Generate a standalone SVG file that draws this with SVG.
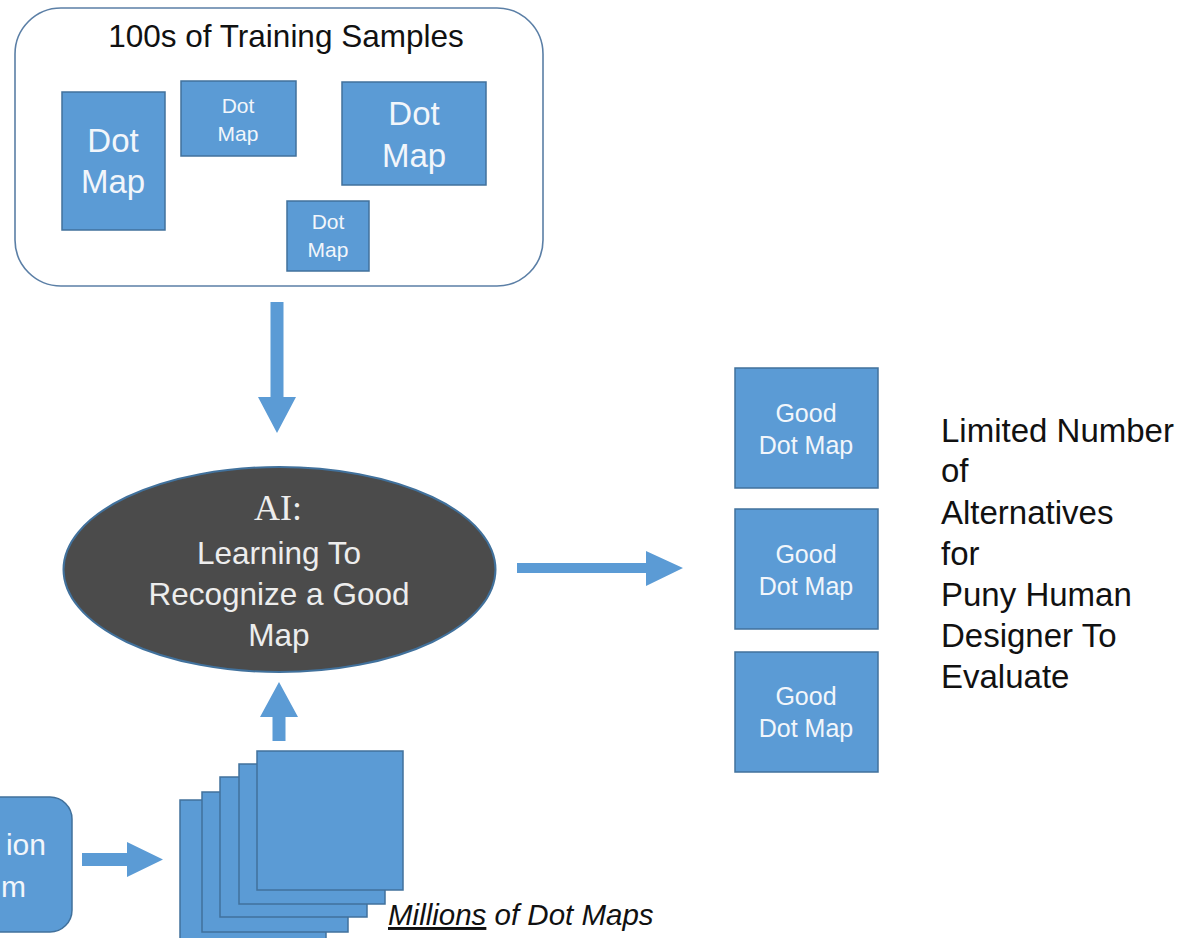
<svg xmlns="http://www.w3.org/2000/svg" width="1183" height="938" viewBox="0 0 1183 938">
<style>
.box{fill:#5B9BD5;stroke:#41719C;stroke-width:1.5}
.arrow{fill:#5B9BD5}
.bt{font-family:"Liberation Sans",Arial,sans-serif;fill:#F2F6FB;text-anchor:middle}
.dark{font-family:"Liberation Sans",Arial,sans-serif;fill:#111111}
.et{font-family:"Liberation Sans",Arial,sans-serif;fill:#EDEDED;text-anchor:middle;font-size:31.5px}
</style>
<rect width="1183" height="938" fill="#FFFFFF"/>

<g id="training-samples">
  <rect x="15" y="8" width="528" height="278" rx="46" ry="46" fill="#FFFFFF" stroke="#5B7FA6" stroke-width="1.6"/>
  <text class="dark" x="286" y="47" font-size="31.5" text-anchor="middle">100s of Training Samples</text>
</g>
<g id="dotmap1">
  <rect class="box" x="62" y="92" width="103" height="138"/>
  <text class="bt" x="113" y="152" font-size="33">Dot</text>
  <text class="bt" x="113" y="193" font-size="33">Map</text>
</g>
<g id="dotmap2">
  <rect class="box" x="181" y="81" width="115" height="75"/>
  <text class="bt" x="238" y="113" font-size="21">Dot</text>
  <text class="bt" x="238" y="141" font-size="21">Map</text>
</g>
<g id="dotmap3">
  <rect class="box" x="342" y="82" width="144" height="103"/>
  <text class="bt" x="414" y="125" font-size="33">Dot</text>
  <text class="bt" x="414" y="167" font-size="33">Map</text>
</g>
<g id="dotmap4">
  <rect class="box" x="287" y="201" width="82" height="70"/>
  <text class="bt" x="328" y="229" font-size="21">Dot</text>
  <text class="bt" x="328" y="257" font-size="21">Map</text>
</g>

<g id="ai">
  <ellipse cx="279.5" cy="569.5" rx="216" ry="102.5" fill="#4B4B4B" stroke="#41719C" stroke-width="2"/>
  <text x="278" y="520" font-family="'Liberation Serif','Times New Roman',serif" font-size="36" fill="#EDEDED" text-anchor="middle">AI:</text>
  <text class="et" x="279" y="564">Learning To</text>
  <text class="et" x="279" y="605">Recognize a Good</text>
  <text class="et" x="279" y="646">Map</text>
</g>

<g id="good1">
  <rect class="box" x="735" y="368" width="143" height="120"/>
  <text class="bt" x="806" y="422" font-size="25">Good</text>
  <text class="bt" x="806" y="454" font-size="25">Dot Map</text>
</g>
<g id="good2">
  <rect class="box" x="735" y="509" width="143" height="120"/>
  <text class="bt" x="806" y="563" font-size="25">Good</text>
  <text class="bt" x="806" y="595" font-size="25">Dot Map</text>
</g>
<g id="good3">
  <rect class="box" x="735" y="652" width="143" height="120"/>
  <text class="bt" x="806" y="705" font-size="25">Good</text>
  <text class="bt" x="806" y="737" font-size="25">Dot Map</text>
</g>

<g id="limited-label">
  <text class="dark" font-size="33" x="941">
    <tspan x="941" y="442">Limited Number</tspan>
    <tspan x="941" y="482">of</tspan>
    <tspan x="941" y="524">Alternatives</tspan>
    <tspan x="941" y="565">for</tspan>
    <tspan x="941" y="606">Puny Human</tspan>
    <tspan x="941" y="647">Designer To</tspan>
    <tspan x="941" y="688">Evaluate</tspan>
  </text>
</g>

<g id="generator">
  <rect class="box" x="-120" y="797" width="192" height="135" rx="22" ry="22"/>
  <text class="bt" x="46" y="855" font-size="30" style="text-anchor:end">ion</text>
  <text class="bt" x="26" y="897" font-size="30" style="text-anchor:end">m</text>
</g>

<g id="millions-stack">
  <rect class="box" x="180" y="800" width="146" height="150"/>
  <rect class="box" x="202" y="792" width="146" height="140"/>
  <rect class="box" x="220" y="777" width="147" height="140"/>
  <rect class="box" x="239" y="764" width="146" height="140"/>
  <rect class="box" x="257" y="751" width="146" height="139"/>
  <text class="dark" x="388" y="925" font-size="29.5" font-style="italic"><tspan text-decoration="underline">Millions</tspan> of Dot Maps</text>
</g>

<g id="connectors">
  <polygon class="arrow" points="270.5,302 283.5,302 283.5,397 296,397 277,433 258,397 270.5,397"/>
  <polygon class="arrow" points="517,563 646,563 646,551 683,568 646,586 646,573 517,573"/>
  <polygon class="arrow" points="272.5,741 285.5,741 285.5,717 298,717 279,682 260,717 272.5,717"/>
  <polygon class="arrow" points="82,853 127,853 127,842 163,859.5 127,877 127,866 82,866"/>
</g>
</svg>
